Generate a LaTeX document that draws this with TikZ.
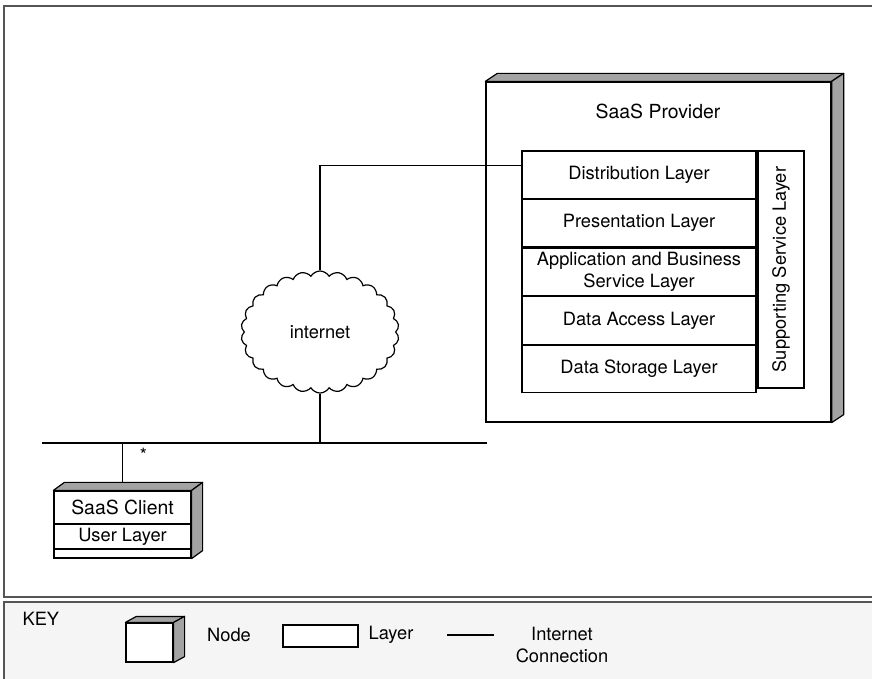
\documentclass[tikz,border=0pt]{standalone}
\usepackage{fontspec}
\setmainfont{TeX Gyre Heros}
\usetikzlibrary{positioning,shapes.symbols}
\definecolor{sidegray}{HTML}{A3A3A3}
\definecolor{keyfill}{HTML}{F5F5F5}
\definecolor{framegray}{HTML}{555555}
\begin{document}
\begin{tikzpicture}[x=0.025cm, y=-0.025cm, line width=0.85pt, font=\fontsize{13}{16}\selectfont]
        \tikzset{face/.style={draw, fill=white, inner sep=0pt},
                 layer/.style={draw, fill=white, inner sep=0pt, minimum width=5.85cm, minimum height=1.185cm, align=center},
                 side/.style={draw, fill=sidegray, line join=round},
                 title/.style={font=\fontsize{13.8}{16}\selectfont}}
        \useasboundingbox (0,0) rectangle (872,678);
        \clip (0,0) rectangle (872,678);
        % frames
        \draw[framegray, line width=1.3pt] (4,6) rectangle (880,597);
        \draw[framegray, line width=1.1pt, fill=keyfill] (4,602) rectangle (880,690);
        % provider node
        \node[face, minimum width=8.625cm, minimum height=8.5cm] (prov) at (658.5,252) {};
        \filldraw[side] (prov.north west) -- ++(0.3cm,0.2cm) -- ([shift={(0.3cm,0.2cm)}]prov.north east) -- (prov.north east) -- cycle;
        \filldraw[side] (prov.north east) -- ++(0.3cm,0.2cm) -- ([shift={(0.3cm,0.2cm)}]prov.south east) -- (prov.south east) -- cycle;
        \node[title] (provtitle) at (658,111) {SaaS Provider};
        \node[layer] (dist) at (639,174.7) {Distribution Layer};
        \node[layer, below=0pt of dist] (pres) {Presentation Layer};
        \node[layer, below=0pt of pres] (app) {Application and Business\\Service Layer};
        \node[layer, below=0pt of app] (access) {Data Access Layer};
        \node[layer, below=0pt of access] (storage) {Data Storage Layer};
        \node[face, rotate=90, minimum width=5.925cm, minimum height=1.15cm] (support) at (781,269.5) {Supporting Service Layer};
        % internet
        \node[cloud, draw, cloud puffs=26, cloud puff arc=120, cloud ignores aspect, minimum width=3.95cm, minimum height=3.05cm, inner sep=0pt] (net) at (320,332) {internet};
        \coordinate (busl) at (42,443);
        \coordinate (busr) at (487,443);
        \draw (busl) -- (busr);
        \draw ([yshift=0.24cm]dist.west) -| (net.north);
        \draw (net.south) -- (net.south |- busr);
        % client node
        \node[face, minimum width=3.425cm, minimum height=1.675cm] (client) at (122.5,524.5) {};
        \filldraw[side] (client.north west) -- ++(0.275cm,0.2cm) -- ([shift={(0.275cm,0.2cm)}]client.north east) -- (client.north east) -- cycle;
        \filldraw[side] (client.north east) -- ++(0.275cm,0.2cm) -- ([shift={(0.275cm,0.2cm)}]client.south east) -- (client.south east) -- cycle;
        \node[title] (clienttitle) at (122.5,507.5) {SaaS Client};
        \node[face, minimum width=3.425cm, minimum height=0.625cm, below=0.825cm of client.north] (user) {User Layer};
        \draw (client.north |- busl) -- ([yshift=0.2cm]client.north) node[pos=0.3, right=0.3cm] (many) {*};
        % key
        \node[anchor=west, inner sep=0pt] (key) at (22,619) {KEY};
        \node[face, minimum width=1.175cm, minimum height=0.975cm] (keynode) at (149.5,642.5) {};
        \filldraw[side] (keynode.north west) -- ++(0.275cm,0.15cm) -- ([shift={(0.275cm,0.15cm)}]keynode.north east) -- (keynode.north east) -- cycle;
        \filldraw[side] (keynode.north east) -- ++(0.275cm,0.15cm) -- ([shift={(0.275cm,0.15cm)}]keynode.south east) -- (keynode.south east) -- cycle;
        \node (keynodetext) at (229,635) {Node};
        \node[face, minimum width=1.875cm, minimum height=0.55cm] (keylayer) at (320.5,636) {};
        \node (keylayertext) at (391,635) {Layer};
        \coordinate (linea) at (447,635);
        \coordinate (lineb) at (494,635);
        \draw (linea) -- (lineb);
        \node[align=center, font=\fontsize{13}{15}\selectfont] (keylinetext) at (562,645) {Internet\\Connection};
    \end{tikzpicture}
\end{document}
